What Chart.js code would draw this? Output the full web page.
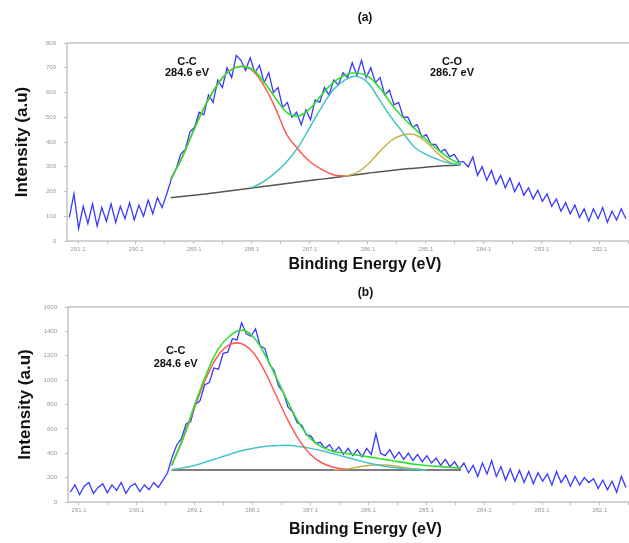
<!DOCTYPE html>
<html>
<head>
<meta charset="utf-8">
<script src="https://cdn.jsdelivr.net/npm/chart.js@4.4.1/dist/chart.umd.min.js"></script>
<style>
  html, body { margin: 0; padding: 0; background: #fff; overflow: hidden; }
  #wrap { width: 629px; height: 543px; overflow: hidden; }
  canvas { display: block; }
</style>
</head>
<body>
<div id="wrap">
  <canvas id="chartA" width="663" height="276"></canvas>
  <canvas id="chartB" width="663" height="267"></canvas>
</div>
<script>
// binding energy axis (reversed), labelled every 1 eV with minor ticks between
const tickEnergies = [291.1, 290.1, 289.1, 288.1, 287.1, 286.1, 285.1, 284.1, 283.1, 282.1];
const tickLabels = ['291.1', '290.1', '289.1', '288.1', '287.1', '286.1', '285.1', '284.1', '283.1', '282.1'];
const minorEnergies = [290.6, 289.6, 288.6, 287.6, 286.6, 285.6, 284.6, 283.6, 282.6, 281.6];

// raw spectrum sampling
const specStart = 291.25;
const specStep = 0.08;

// (a) raw counts
const specA = [95, 190, 50, 140, 70, 150, 60, 135, 80, 150, 75, 140, 90, 155, 85, 145, 100, 165, 110, 175, 135, 190,
  250, 290, 350, 370, 440, 460, 520, 510, 590, 560,
  650, 620, 700, 660, 750, 730, 690, 740, 680, 710,
  640, 680, 600, 620, 540, 560, 500, 520, 470, 530,
  490, 570, 560, 620, 590, 650, 630, 680, 660, 720,
  670, 730, 660, 700, 640, 660, 590, 610, 550, 560,
  500, 500, 460, 470, 420, 430, 390, 390, 360, 370,
  340, 350, 320, 320, 300, 340, 265, 300, 245, 285,
  230, 265, 215, 255, 200, 235, 185, 215, 170, 205,
  160, 190, 140, 170, 120, 155, 110, 145, 95, 130,
  80, 130, 90, 135, 75, 120, 85, 130, 90];

// (b) raw counts
const specB = [80, 140, 60, 130, 160, 70, 120, 150, 75, 140, 95, 160, 70, 130, 150, 85, 140, 100, 160, 120, 180,
  240, 370, 470, 520, 640, 660, 800, 830, 960, 980,
  1100, 1090, 1220, 1230, 1340, 1330, 1470, 1380, 1360, 1420,
  1280, 1260, 1130, 1080, 950, 900, 780, 740, 650, 630,
  550, 540, 480, 490, 440, 470, 410, 450, 390, 440,
  380, 430, 370, 440, 390, 560, 400, 380, 430, 360,
  410, 350, 400, 340, 390, 330, 380, 320, 360, 300,
  350, 290, 330, 270, 320, 240, 300, 210, 320, 230,
  340, 210, 290, 180, 270, 170, 260, 160, 250, 150,
  240, 170, 230, 140, 250, 160, 220, 130, 210, 140,
  200, 160, 190, 110, 180, 100, 170, 80, 210, 120];

// fitted components share one energy grid
const fitEnergies = [289.5, 289.3, 289.1, 288.9, 288.7, 288.5, 288.3, 288.1, 287.9, 287.7, 287.5, 287.3, 287.1,
  286.9, 286.7, 286.5, 286.3, 286.1, 285.9, 285.7, 285.5, 285.3, 285.1, 284.9, 284.7, 284.5];

const envelopeA = [250, 340, 450, 550, 630, 685, 705, 695, 645, 580, 520, 505, 535, 590, 640, 670, 680, 665, 620, 555, 500, 455, 410, 370, 335, 310];
const ccA = [250, 340, 450, 550, 630, 685, 705, 690, 630, 540, 430, 370, 320, 290, 268, 262, null, null, null, null, null, null, null, null, null, null];
const coA = [null, null, null, null, null, null, null, 216, 240, 275, 320, 380, 460, 540, 610, 650, 665, 640, 570, 500, 440, 380, 350, 330, 315, 308];
const thirdA = [null, null, null, null, null, null, null, null, null, null, null, null, null, null, null, 262, 275, 310, 360, 405, 428, 430, 400, 355, 320, 307];
const bgA = [175, 180, 185, 190, 196, 202, 208, 214, 220, 226, 232, 238, 244, 250, 256, 262, 268, 274, 280, 285, 290, 294, 298, 302, 305, 307];

const envelopeB = [300, 530, 800, 1050, 1250, 1360, 1410, 1360, 1220, 1030, 830, 650, 520, 450, 415, 400, 385, 370, 355, 340, 325, 310, 300, 292, 285, 278];
const ccB = [300, 520, 780, 1020, 1200, 1290, 1300, 1230, 1080, 880, 680, 510, 390, 320, 285, 268, null, null, null, null, null, null, null, null, null, null];
const coB = [265, 280, 300, 330, 360, 390, 420, 440, 455, 462, 465, 455, 440, 420, 395, 370, 345, 320, 300, 285, 275, 268, 264, null, null, null];
const thirdB = [null, null, null, null, null, null, null, null, null, null, null, null, null, null, 262, 270, 285, 300, 305, 300, 285, 272, 264, null, null, null];
const bgB = [262, 262, 262, 262, 262, 262, 262, 262, 262, 262, 262, 262, 262, 262, 262, 262, 262, 262, 262, 262, 262, 262, 262, 262, 262, 262];

const FONT = '"Liberation Sans", Arial, sans-serif';

function specPoints(vals) {
  return vals.map((v, i) => ({ x: specStart - i * specStep, y: v }));
}
function fitPoints(vals) {
  return vals.map((v, i) => ({ x: fitEnergies[i], y: v }));
}

function lineSet(data, color, width, order, tension) {
  return { data, borderColor: color, borderWidth: width, pointRadius: 0, tension, order, spanGaps: false, fill: false };
}

// light grey frame around the plot area
const framePlugin = {
  id: 'frame',
  afterDraw(chart) {
    const { ctx, chartArea: a } = chart;
    ctx.save();
    ctx.strokeStyle = '#c4c4c4';
    ctx.lineWidth = 1.5;
    ctx.strokeRect(a.left, a.top, a.right - a.left, a.bottom - a.top);
    ctx.restore();
  }
};

function peakLabelPlugin(items, gap) {
  return {
    id: 'peakLabels',
    afterDatasetsDraw(chart) {
      const { ctx, scales: { x, y } } = chart;
      ctx.save();
      ctx.font = 'bold 11px ' + FONT;
      ctx.fillStyle = '#111';
      ctx.textAlign = 'center';
      ctx.textBaseline = 'middle';
      items.forEach(it => {
        const px = x.getPixelForValue(it.x);
        const py = y.getPixelForValue(it.y);
        it.lines.forEach((t, i) => ctx.fillText(t, px, py + i * gap));
      });
      ctx.restore();
    }
  };
}

function makeChart(id, cfg) {
  const ctx = document.getElementById(id).getContext('2d');
  return new Chart(ctx, {
    type: 'line',
    data: {
      datasets: [
        lineSet(fitPoints(cfg.envelope), '#2ee02e', 1.6, 0, 0.4),
        lineSet(fitPoints(cfg.cc), '#ff5a5a', 1.5, 1, 0.4),
        lineSet(fitPoints(cfg.co), '#45c4c4', 1.5, 2, 0.4),
        lineSet(fitPoints(cfg.third), '#c8b44a', 1.5, 3, 0.4),
        lineSet(fitPoints(cfg.bg), '#555555', 1.5, 4, 0.4),
        lineSet(specPoints(cfg.spec), '#3838ff', 1.3, 5, 0)
      ]
    },
    options: {
      responsive: false,
      animation: false,
      devicePixelRatio: 1,
      layout: { padding: 0 },
      plugins: {
        legend: { display: false },
        tooltip: { enabled: false },
        title: {
          display: true,
          text: cfg.title,
          fullSize: false,
          color: '#111',
          font: { family: FONT, size: 12, weight: 'bold' },
          padding: cfg.titlePad
        }
      },
      scales: {
        x: {
          type: 'linear',
          reverse: true,
          min: 281.01,
          max: 291.29,
          afterBuildTicks(scale) {
            scale.ticks = tickEnergies.concat(minorEnergies).sort((a, b) => a - b).map(v => ({ value: v }));
          },
          afterFit(scale) { scale.height = cfg.xHeight; },
          ticks: {
            autoSkip: false,
            maxRotation: 0,
            padding: 2,
            color: '#999',
            font: { family: FONT, size: 6 },
            callback(value) {
              const i = tickEnergies.findIndex(t => Math.abs(t - value) < 1e-6);
              return i >= 0 ? tickLabels[i] : '';
            }
          },
          grid: { drawOnChartArea: false, tickLength: 3, color: '#bbb' },
          border: { display: false },
          title: {
            display: true,
            text: 'Binding Energy (eV)',
            color: '#111',
            font: { family: FONT, size: 16, weight: 'bold' },
            padding: { top: 0, bottom: cfg.xTitlePad }
          }
        },
        y: {
          min: 0,
          max: cfg.yMax,
          afterFit(scale) { scale.width = cfg.yWidth; },
          ticks: {
            stepSize: cfg.yStep,
            padding: 8,
            color: '#999',
            font: { family: FONT, size: 6 },
            callback: v => String(v)
          },
          grid: { drawOnChartArea: false, tickLength: 3, color: '#bbb' },
          border: { display: false },
          title: {
            display: true,
            text: 'Intensity (a.u)',
            color: '#111',
            font: { family: FONT, size: 17, weight: 'bold' },
            padding: { top: cfg.yTitlePad, bottom: 0 }
          }
        }
      }
    },
    plugins: [framePlugin, peakLabelPlugin(cfg.labels, cfg.labelGap)]
  });
}

makeChart('chartA', {
  title: '(a)',
  titlePad: { top: 10, bottom: 18.6 },
  xHeight: 35, xTitlePad: 2,
  yWidth: 67, yTitlePad: 12,
  yMax: 800, yStep: 100,
  spec: specA, envelope: envelopeA, cc: ccA, co: coA, third: thirdA, bg: bgA,
  labels: [
    { x: 289.22, y: 723, lines: ['C-C', '284.6 eV'] },
    { x: 284.65, y: 723, lines: ['C-O', '286.7 eV'] }
  ],
  labelGap: 11
});

makeChart('chartB', {
  title: '(b)',
  titlePad: { top: 9, bottom: 7.6 },
  xHeight: 41, xTitlePad: 4,
  yWidth: 68, yTitlePad: 15,
  yMax: 1600, yStep: 200,
  spec: specB, envelope: envelopeB, cc: ccB, co: coB, third: thirdB, bg: bgB,
  labels: [
    { x: 289.43, y: 1238, lines: ['C-C', '284.6 eV'] }
  ],
  labelGap: 13
});
</script>
</body>
</html>
